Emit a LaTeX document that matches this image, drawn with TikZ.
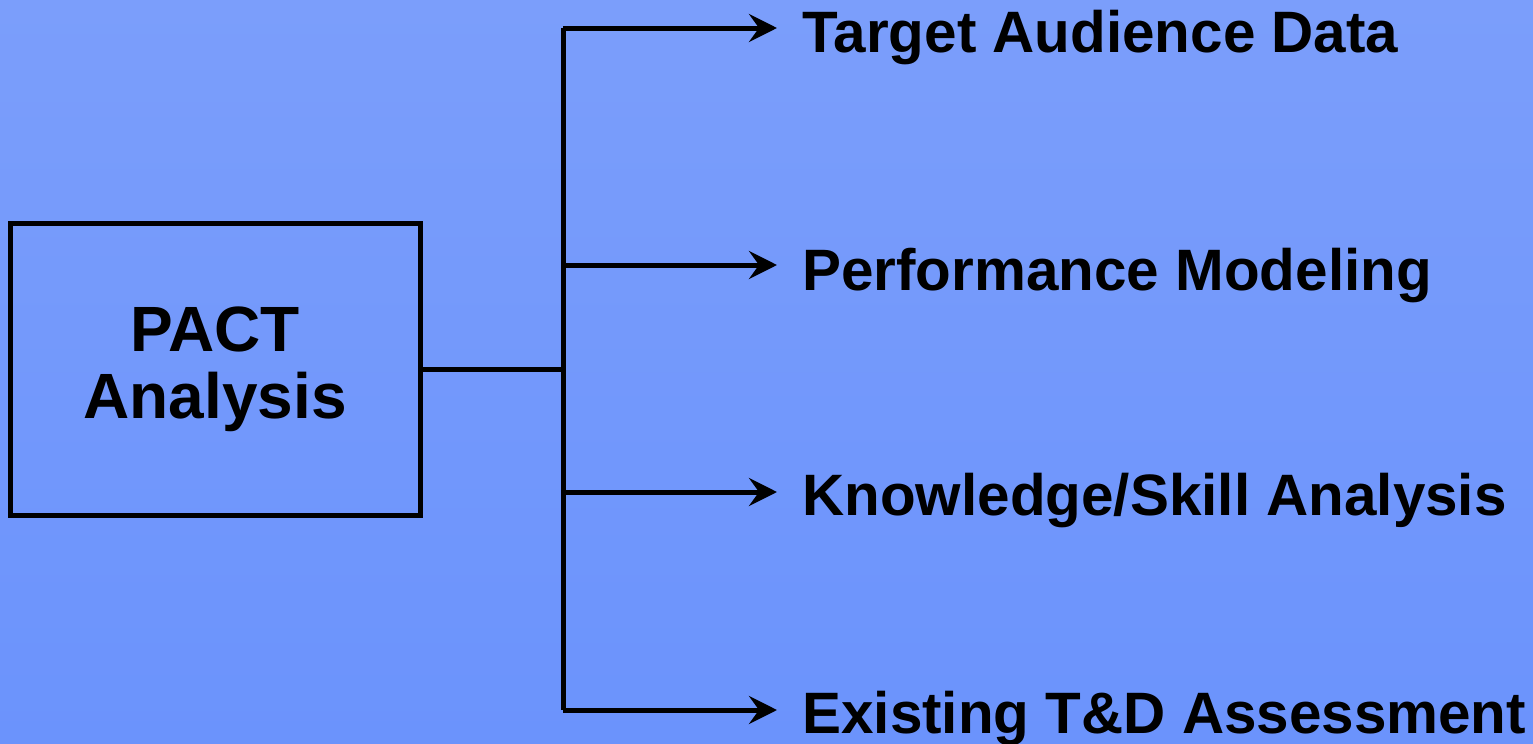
\documentclass[tikz,border=0pt]{standalone}
\usepackage{fontspec}
\setmainfont{Liberation Sans}
\usetikzlibrary{arrows.meta}

\definecolor{bgtop}{RGB}{123,158,251}
\definecolor{bgmid}{RGB}{128,164,253}
\definecolor{bgbot}{RGB}{107,147,252}

\begin{document}
\begin{tikzpicture}[x=0.5pt, y=-0.5pt,
    wire/.style={line width=2.5pt, line join=miter},
    branch/.style={wire, -{Stealth[length=14pt, width=14pt, inset=5pt]}, shorten >=12.5pt},
    pactbox/.style={draw, line width=2.5pt, minimum width=205pt, minimum height=146pt,
      align=center, font=\fontsize{32}{33.5}\selectfont\bfseries},
    item/.style={anchor=base west, inner sep=0pt, font=\fontsize{29.2}{30}\selectfont\bfseries}
    ]
    \shade[top color=bgtop, middle color=bgmid, bottom color=bgbot] (0,0) rectangle (1533,744);
    \useasboundingbox (0,0) rectangle (1533,744);

    \node[pactbox] (pact) at (215,369) {PACT\\Analysis};

    \node[item] (tad) at (802,52) {Target Audience Data};
    \node[item] (pm) at (802,290) {Performance Modeling};
    \node[item] (ksa) at (802,515) {Knowledge/Skill Analysis};
    \node[item] (etd) at (802,733) {Existing T\&D Assessment};

    \coordinate (hub) at (563,369);
    \coordinate (b1) at (563,28);
    \coordinate (b2) at (563,265);
    \coordinate (b3) at (563,492);
    \coordinate (b4) at (563,710);

    \draw[wire] (pact.east) -- (hub);
    \draw[wire] (b1) -- (b4);
    \draw[branch] (b1) -- (b1 -| tad.west);
    \draw[branch] (b2) -- (b2 -| pm.west);
    \draw[branch] (b3) -- (b3 -| ksa.west);
    \draw[branch] (b4) -- (b4 -| etd.west);
  \end{tikzpicture}
\end{document}
